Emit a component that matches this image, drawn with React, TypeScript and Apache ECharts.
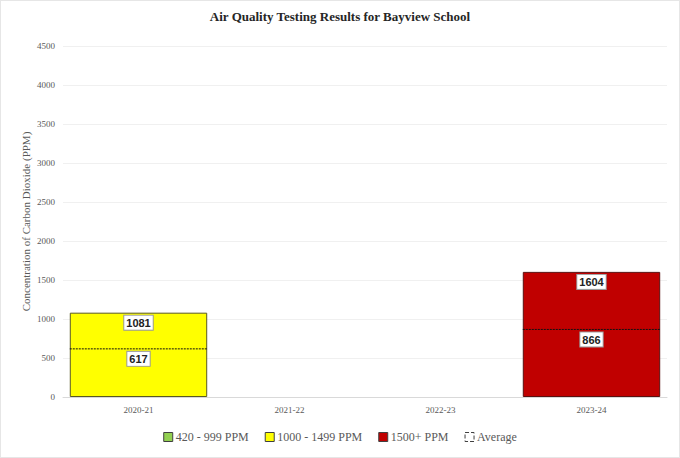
import React, { useEffect, useRef } from 'react';
import * as echarts from 'echarts';

const years = ['2020-21', '2021-22', '2022-23', '2023-24'];
const lowPpm = [null, null, null, null];
const midPpm = [1081, null, null, null];
const highPpm = [null, null, null, 1604];
const averages = [617, null, null, 866];
const yTicks = [0, 500, 1000, 1500, 2000, 2500, 3000, 3500, 4000, 4500];

const serif = '"Liberation Serif", "DejaVu Serif", serif';
const sans = '"Liberation Sans", Arial, sans-serif';
const BAR_W = 0.91;

const valueLabel = {
  show: true,
  position: 'insideTop',
  distance: 3,
  color: '#222',
  fontFamily: sans,
  fontWeight: 'bold',
  fontSize: 11,
  backgroundColor: '#fff',
  borderColor: '#9a9a9a',
  borderWidth: 1,
  padding: [2, 2, 1, 2],
};

export default function App() {
  const chartRef = useRef<HTMLDivElement>(null);

  useEffect(() => {
    if (!chartRef.current) return;
    const chart = echarts.init(chartRef.current, null, { renderer: 'svg' });

    const option = {
      animation: false,
      title: {
        text: 'Air Quality Testing Results for Bayview School',
        left: 'center',
        top: 4,
        textStyle: { fontFamily: serif, fontWeight: 'bold', fontSize: 13, color: '#262626' },
      },
      grid: { left: 62, right: 12, top: 45, bottom: 60 },
      legend: {
        bottom: 9,
        left: 'center',
        itemWidth: 9,
        itemHeight: 9,
        itemGap: 16,
        textStyle: { fontFamily: serif, fontSize: 12, color: '#595959', padding: [0, 0, 0, -2] },
        data: [
          { name: '420 - 999 PPM', icon: 'rect', itemStyle: { color: '#92D050', borderColor: '#404040', borderWidth: 1 } },
          { name: '1000 - 1499 PPM', icon: 'rect', itemStyle: { color: '#FFFF00', borderColor: '#404040', borderWidth: 1 } },
          { name: '1500+ PPM', icon: 'rect', itemStyle: { color: '#C00000', borderColor: '#404040', borderWidth: 1 } },
          { name: 'Average', icon: 'rect', itemStyle: { color: '#fff', borderColor: '#404040', borderWidth: 1, borderType: 'dashed' } },
        ],
      },
      xAxis: {
        type: 'category',
        data: years,
        axisLine: { lineStyle: { color: '#d9d9d9' } },
        axisTick: { show: false },
        axisLabel: { fontFamily: serif, fontSize: 9, color: '#595959', margin: 8 },
      },
      yAxis: {
        type: 'value',
        min: 0,
        max: 4500,
        interval: 500,
        name: 'Concentration of Carbon Dioxide (PPM)',
        nameLocation: 'middle',
        nameGap: 32,
        nameMoveOverlap: false,
        nameTextStyle: { fontFamily: serif, fontSize: 11, color: '#595959' },
        axisLabel: {
          fontFamily: serif,
          fontSize: 9,
          color: '#595959',
          margin: 8,
          formatter: (v: number) => (yTicks.includes(v) ? String(v) : ''),
        },
        splitLine: { lineStyle: { color: '#f0f0f0' } },
      },
      series: [
        {
          name: '420 - 999 PPM',
          type: 'bar',
          data: lowPpm,
          barWidth: '91%',
          barGap: '-100%',
          itemStyle: { color: '#92D050', borderColor: '#404040', borderWidth: 1 },
          label: valueLabel,
        },
        {
          name: '1000 - 1499 PPM',
          type: 'bar',
          data: midPpm,
          barWidth: '91%',
          barGap: '-100%',
          itemStyle: { color: '#FFFF00', borderColor: '#5a5a20', borderWidth: 1 },
          label: valueLabel,
        },
        {
          name: '1500+ PPM',
          type: 'bar',
          data: highPpm,
          barWidth: '91%',
          barGap: '-100%',
          itemStyle: { color: '#C00000', borderColor: '#5a1010', borderWidth: 1 },
          label: valueLabel,
        },
        {
          name: 'Average',
          type: 'custom',
          data: averages.map((v, i) => [i, v]),
          z: 5,
          renderItem: (params: any, api: any) => {
            const v = api.value(1);
            if (v == null || isNaN(v)) return null;
            const pt = api.coord([api.value(0), v]);
            const w = api.size([1, 0])[0] * BAR_W;
            return {
              type: 'group',
              children: [
                {
                  type: 'line',
                  shape: { x1: pt[0] - w / 2, y1: pt[1], x2: pt[0] + w / 2, y2: pt[1] },
                  style: { stroke: '#111', lineWidth: 1, lineDash: [2, 1] },
                },
                {
                  type: 'text',
                  x: pt[0],
                  y: pt[1] + 3,
                  style: {
                    text: String(v),
                    align: 'center',
                    verticalAlign: 'top',
                    fill: '#222',
                    font: `bold 11px ${sans}`,
                    backgroundColor: '#fff',
                    borderColor: '#9a9a9a',
                    borderWidth: 1,
                    padding: [2, 2, 1, 2],
                  },
                },
              ],
            };
          },
        },
      ],
    };

    chart.setOption(option);
    return () => chart.dispose();
  }, []);

  return (
    <div
      ref={chartRef}
      style={{
        position: 'fixed',
        left: 0,
        top: 0,
        width: 680,
        height: 458,
        boxSizing: 'border-box',
        border: '1px solid #e6e6e6',
        background: '#fff',
      }}
    />
  );
}
